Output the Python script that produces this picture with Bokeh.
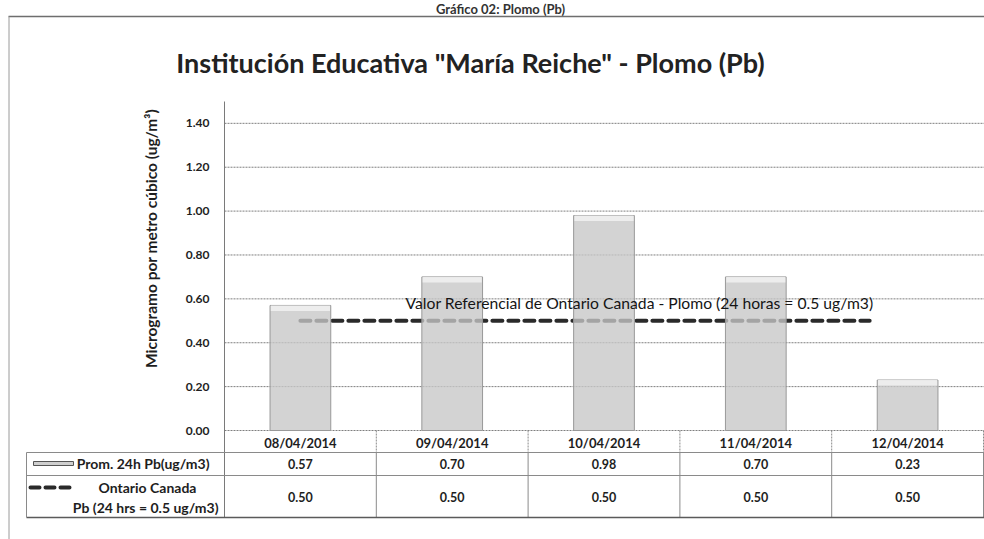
import math
from bokeh.plotting import figure
from bokeh.models import Range1d, FixedTicker, PrintfTickFormatter, LinearAxis
from bokeh.core.properties import value
from bokeh.embed import file_html
from bokeh.resources import INLINE

# ---------------- data ----------------
categories = ["08/04/2014", "09/04/2014", "10/04/2014", "11/04/2014", "12/04/2014"]
prom_24h = [0.57, 0.70, 0.98, 0.70, 0.23]
ontario_ref = [0.50, 0.50, 0.50, 0.50, 0.50]
y_ticks = [0.0, 0.2, 0.4, 0.6, 0.8, 1.0, 1.2, 1.4]
page_title = "Gráfico 02: Plomo (Pb)"
title_text = 'Institución Educativa "María Reiche" - Plomo (Pb)'
y_label = "Microgramo por metro cúbico (ug/m³)"
ref_label = "Valor Referencial de Ontario Canada - Plomo (24 horas = 0.5 ug/m3)"
row1_label = "Prom. 24h Pb(ug/m3)"
row2_label = ["Ontario Canada", "Pb (24 hrs = 0.5 ug/m3)"]

# ---------------- layout (page pixels -> data units) ----------------
FONT = "Lato"
W, H = 984, 539
PAGE0 = 0
AXIS_X = 224             # page x of the value axis
ZERO_Y = 430             # page y of value 0
UNIT_X = 151.8           # px per category
UNIT_Y = 219.4           # px per 1.0 ug/m3
BOX_TOP = 16             # page y of the chart box top border
TXT = "#1e1e1e"
GRID = "#7f7f7f"
TABLE = "#8a8a8a"
REF_END_OFFSET = -0.25
CAP = 0.025              # height of the lighter bar cap (data units)


def xd(px):
    return (px - AXIS_X) / UNIT_X


def yd(py):
    return (ZERO_Y - py) / UNIT_Y


p = figure(width=W, height=H,
           x_range=Range1d(xd(PAGE0), xd(PAGE0 + W)),
           y_range=Range1d(yd(PAGE0 + H), yd(PAGE0)),
           output_backend="svg", toolbar_location=None,
           x_axis_location=None, y_axis_location=None,
           min_border_left=0, min_border_right=0, min_border_top=0, min_border_bottom=0)
p.outline_line_color = None
p.grid.visible = False
p.background_fill_color = "white"
p.border_fill_color = "white"

# value axis placed at the category origin
ax = LinearAxis(fixed_location=0)
ax.ticker = FixedTicker(ticks=y_ticks)
ax.formatter = PrintfTickFormatter(format="%.2f")
ax.major_tick_line_color = None
ax.minor_tick_line_color = None
ax.axis_line_color = None
ax.major_label_text_font = FONT
ax.major_label_text_font_style = "bold"
ax.major_label_text_font_size = "12px"
ax.major_label_text_color = TXT
ax.major_label_standoff = 9
p.add_layout(ax, "left")

n = len(categories)
centers = [i + 0.5 for i in range(n)]
x_end = xd(PAGE0 + W)

# page caption above the chart box
p.text(x=[xd(500)], y=[yd(8)], text=[page_title], text_font=value(FONT),
       text_font_style="bold", text_font_size="13px", text_color="#333333",
       text_align="center", text_baseline="middle")

# outer chart border
p.segment(x0=[xd(8)], x1=[x_end], y0=[yd(BOX_TOP)], y1=[yd(BOX_TOP)],
          line_color="#6e6e6e", line_width=1.5)
p.segment(x0=[xd(8.5)], x1=[xd(8.5)], y0=[yd(BOX_TOP)], y1=[yd(PAGE0 + H)],
          line_color="#9a9a9a", line_width=1)

# horizontal gridlines
p.segment(x0=[0] * len(y_ticks), x1=[x_end] * len(y_ticks), y0=y_ticks, y1=y_ticks,
          line_color=GRID, line_width=1, line_dash="2 1")

# reference line (drawn first, bars are semi-transparent above it)
ref_x = centers[:-1] + [centers[-1] + REF_END_OFFSET]
p.line(x=ref_x, y=ontario_ref, line_color="#2a2a2a", line_width=4,
       line_dash="10 6", line_cap="round")

p.vbar(x=centers, top=prom_24h, width=0.4, fill_color="#c6c6c6", fill_alpha=0.78,
       line_color="#999999", line_width=1)
p.vbar(x=centers, top=prom_24h, bottom=[v - CAP for v in prom_24h], width=0.39,
       fill_color="#f0f0f0", fill_alpha=0.9, line_color=None)

# value axis line (continues as the table border)
p.segment(x0=[0], x1=[0], y0=[yd(101)], y1=[yd(517)], line_color="#7a7a7a", line_width=1)

# ---------------- data table ----------------
seps = list(range(1, n + 1))
p.segment(x0=seps, x1=seps, y0=[0] * n, y1=[yd(452)] * n,
          line_color=TABLE, line_width=1, line_dash="2 1")
p.segment(x0=seps, x1=seps, y0=[yd(452)] * n, y1=[yd(517)] * n,
          line_color=TABLE, line_width=1)
p.segment(x0=[xd(26), xd(26)], x1=[x_end, x_end], y0=[yd(452), yd(475)],
          y1=[yd(452), yd(475)], line_color=TABLE, line_width=1)
p.segment(x0=[xd(26)], x1=[x_end], y0=[yd(517)], y1=[yd(517)],
          line_color="#5a5a5a", line_width=1.5)
p.segment(x0=[xd(26)], x1=[xd(26)], y0=[yd(452)], y1=[yd(517)],
          line_color=TABLE, line_width=1)

p.text(x=centers, y=[yd(442)] * n, text=categories,
       text_font=value(FONT), text_font_style="bold", text_font_size="13px",
       text_color=TXT, text_align="center", text_baseline="middle")
p.text(x=centers, y=[yd(463)] * n, text=[f"{v:.2f}" for v in prom_24h],
       text_font=value(FONT), text_font_style="bold", text_font_size="12.5px",
       text_color=TXT, text_align="center", text_baseline="middle")
p.text(x=centers, y=[yd(496)] * n, text=[f"{v:.2f}" for v in ontario_ref],
       text_font=value(FONT), text_font_style="bold", text_font_size="12.5px",
       text_color=TXT, text_align="center", text_baseline="middle")

p.text(x=[xd(209)], y=[yd(463)], text=[row1_label], text_font=value(FONT),
       text_font_style="bold", text_font_size="14px", text_color=TXT,
       text_align="right", text_baseline="middle")
p.text(x=[xd(147)], y=[yd(487)], text=[row2_label[0]], text_font=value(FONT),
       text_font_style="bold", text_font_size="14px", text_color=TXT,
       text_align="center", text_baseline="middle")
p.text(x=[xd(218)], y=[yd(507)], text=[row2_label[1]], text_font=value(FONT),
       text_font_style="bold", text_font_size="14px", text_color=TXT,
       text_align="right", text_baseline="middle")

# legend keys
p.rect(x=[xd(53)], y=[yd(463)], width=40 / UNIT_X, height=4 / UNIT_Y,
       fill_color="#cfcfcf", line_color="#555555", line_width=1)
p.line(x=[xd(30), xd(70)], y=[yd(487), yd(487)], line_color="#2a2a2a", line_width=4,
       line_dash="9 6", line_cap="round")

# ---------------- texts ----------------
p.text(x=[xd(639)], y=[yd(302)], text=[ref_label], text_font=value(FONT),
       text_font_size="15.7px", text_color="#151515",
       text_align="center", text_baseline="middle")
p.text(x=[xd(470)], y=[yd(62)], text=[title_text], text_font=value(FONT),
       text_font_style="bold", text_font_size="27px", text_color="#222222",
       text_align="center", text_baseline="middle")
p.text(x=[xd(150)], y=[yd(238)], text=[y_label], text_font=value(FONT),
       text_font_style="bold", text_font_size="15.5px", text_color=TXT,
       text_align="center", text_baseline="middle", angle=math.pi / 2)

open("out.html", "w").write(file_html(p, INLINE))
